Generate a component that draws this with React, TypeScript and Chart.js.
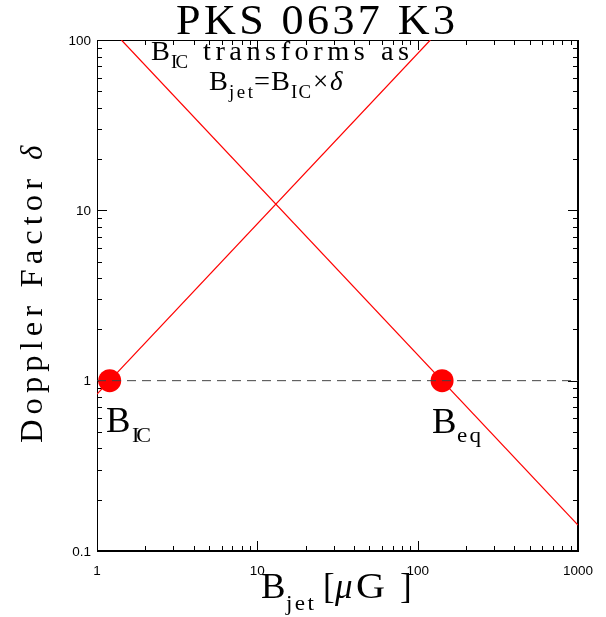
import React, { useEffect, useRef } from "react";
import { Chart, registerables } from "chart.js";

Chart.register(...registerables);

// ---- data ----
const xMin = 1;
const xMax = 1000;
const yMin = 0.1;
const yMax = 100;
const xMajorTicks = [1, 10, 100, 1000];
const xTickLabels = ["1", "10", "100", "1000"];
const yMajorTicks = [0.1, 1, 10, 100];
const yTickLabels = ["0.1", "1", "10", "100"];

// B_IC transformation line (delta = B / B_IC)
const bicLineX = [1, 120];
const bicLineY = [0.833, 100];
// equipartition line (delta = B_eq / B)
const beqLineX = [1.42, 1000];
const beqLineY = [100, 0.142];
// delta = 1 reference
const unityX = [1, 1000];
const unityY = [1, 1];
// marked field values
const markX = [1.2, 142];
const markY = [1, 1];

const SERIF = "'Liberation Serif', 'DejaVu Serif', serif";
const SANS = "'Liberation Sans', Arial, sans-serif";
const STRETCH = 1.05;

// draws text glyph by glyph; if x1 is given, letters are spread so the run ends there
function txt(
  ctx: CanvasRenderingContext2D,
  text: string,
  x0: number,
  y: number,
  size: number,
  x1?: number,
  italic = false,
  sx = STRETCH
) {
  ctx.font = `${italic ? "italic " : ""}${size}px ${SERIF}`;
  const chars = Array.from(text);
  const widths = chars.map((c) => ctx.measureText(c).width * sx);
  const total = widths.reduce((a, b) => a + b, 0);
  const gap = x1 !== undefined && chars.length > 1 ? (x1 - x0 - total) / (chars.length - 1) : 0;
  let x = x0;
  chars.forEach((c, i) => {
    ctx.save();
    ctx.translate(x, y);
    ctx.scale(sx, 1);
    ctx.fillText(c, 0, 0);
    ctx.restore();
    x += widths[i] + gap;
  });
}

const decorPlugin = {
  id: "decor",
  beforeDatasetsDraw(chart: any) {
    const { ctx, chartArea, scales } = chart;
    const { left, right, top, bottom } = chartArea;
    const xs = scales.x;
    const ys = scales.y;
    ctx.save();
    ctx.strokeStyle = "#000";
    ctx.lineWidth = 1;
    ctx.beginPath();
    ctx.moveTo(left + 0.5, bottom);
    ctx.lineTo(left + 0.5, top + 0.5);
    ctx.lineTo(right, top + 0.5);
    ctx.stroke();
    ctx.lineWidth = 2;
    ctx.beginPath();
    ctx.moveTo(left, bottom);
    ctx.lineTo(right, bottom);
    ctx.lineTo(right, top);
    ctx.stroke();

    ctx.lineWidth = 1;
    for (let d = 1; d < xMax; d *= 10) {
      for (let m = 1; m <= 10; m++) {
        const v = d * m;
        if (v > xMax) continue;
        const px = Math.round(xs.getPixelForValue(v)) + 0.5;
        const len = m === 1 || m === 10 ? 10 : 5;
        ctx.beginPath();
        ctx.moveTo(px, bottom);
        ctx.lineTo(px, bottom - len);
        ctx.moveTo(px, top);
        ctx.lineTo(px, top + len);
        ctx.stroke();
      }
    }
    for (let d = yMin; d < yMax * 0.99; d *= 10) {
      for (let m = 1; m <= 10; m++) {
        const v = d * m;
        if (v > yMax * 1.001) continue;
        const py = Math.round(ys.getPixelForValue(v)) + 0.5;
        const len = m === 1 || m === 10 ? 10 : 5;
        ctx.beginPath();
        ctx.moveTo(left, py);
        ctx.lineTo(left + len, py);
        ctx.moveTo(right, py);
        ctx.lineTo(right - len, py);
        ctx.stroke();
      }
    }
    ctx.restore();
  },
  afterDraw(chart: any) {
    const { ctx, chartArea, scales } = chart;
    const xs = scales.x;
    const ys = scales.y;
    ctx.save();
    ctx.fillStyle = "#000";
    ctx.font = `13.5px ${SANS}`;
    ctx.textAlign = "center";
    ctx.textBaseline = "alphabetic";
    xMajorTicks.forEach((v, i) => {
      ctx.fillText(xTickLabels[i], xs.getPixelForValue(v), 575);
    });
    ctx.textAlign = "right";
    ctx.textBaseline = "middle";
    yMajorTicks.forEach((v, i) => {
      ctx.fillText(yTickLabels[i], chartArea.left - 6, ys.getPixelForValue(v) + 1);
    });

    ctx.textAlign = "left";
    ctx.textBaseline = "alphabetic";
    // title
    txt(ctx, "PKS 0637 K3", 176, 34, 42, 455);
    // annotation line 1
    txt(ctx, "B", 151, 60, 27);
    txt(ctx, "IC", 171, 68, 18, 188);
    txt(ctx, "transforms as", 203, 60, 27, 409);
    // annotation line 2
    txt(ctx, "B", 209, 90, 27);
    txt(ctx, "jet", 229, 98, 18, 253);
    txt(ctx, "=", 254, 90, 27);
    txt(ctx, "B", 271, 90, 27);
    txt(ctx, "IC", 291, 98, 18, 311);
    txt(ctx, "×", 313, 90, 27, undefined, false, 1);
    txt(ctx, "δ", 330, 90, 27, undefined, true, 1);
    // point labels
    txt(ctx, "B", 106, 432, 35);
    txt(ctx, "IC", 132, 442, 21, 151);
    txt(ctx, "B", 432, 433, 35);
    txt(ctx, "eq", 457, 442, 22, 481);
    // x-axis title
    txt(ctx, "B", 261, 598, 35);
    txt(ctx, "jet", 286, 610, 22, 314);
    txt(ctx, "[", 323, 598, 35, undefined, false, 1);
    txt(ctx, "μ", 335, 598, 35, undefined, true, 1);
    txt(ctx, "G", 356, 598, 35, undefined, false, 1.15);
    txt(ctx, "]", 400, 598, 35, undefined, false, 1);
    // y-axis title
    ctx.save();
    ctx.translate(42, 443);
    ctx.rotate(-Math.PI / 2);
    txt(ctx, "Doppler Factor", 0, 0, 31, 264);
    txt(ctx, "δ", 283, 0, 31, undefined, true, 1);
    ctx.restore();
    ctx.restore();
  },
};

export default function App() {
  const ref = useRef<HTMLCanvasElement | null>(null);
  useEffect(() => {
    document.body.style.margin = "0";
    const canvas = ref.current;
    if (!canvas) return;
    const toPts = (xs: number[], ys: number[]) => xs.map((x, i) => ({ x, y: ys[i] }));
    const chart = new Chart(canvas, {
      type: "scatter",
      data: {
        datasets: [
          {
            data: toPts(unityX, unityY),
            showLine: true,
            borderColor: "#444",
            borderWidth: 1,
            borderDash: [9, 6],
            pointRadius: 0,
            order: 1,
          },
          {
            data: toPts(bicLineX, bicLineY),
            showLine: true,
            borderColor: "#ff0000",
            borderWidth: 1.2,
            pointRadius: 0,
            order: 2,
          },
          {
            data: toPts(beqLineX, beqLineY),
            showLine: true,
            borderColor: "#ff0000",
            borderWidth: 1.2,
            pointRadius: 0,
            order: 2,
          },
          {
            data: toPts(markX, markY),
            showLine: false,
            backgroundColor: "#ff0000",
            borderColor: "#ff0000",
            borderWidth: 0,
            pointRadius: 11.5,
            order: 3,
          },
        ],
      },
      options: {
        animation: false,
        responsive: false,
        maintainAspectRatio: false,
        devicePixelRatio: 1,
        layout: { padding: { left: 0, right: 28, top: 40, bottom: 0 } },
        plugins: {
          legend: { display: false },
          tooltip: { enabled: false },
          title: { display: false },
        },
        scales: {
          x: {
            type: "logarithmic",
            min: xMin,
            max: xMax,
            grid: { display: false },
            border: { display: false },
            ticks: { display: false },
            afterFit: (s: any) => {
              s.height = 66;
            },
          },
          y: {
            type: "logarithmic",
            min: yMin,
            max: yMax,
            grid: { display: false },
            border: { display: false },
            ticks: { display: false },
            afterFit: (s: any) => {
              s.width = 97;
            },
          },
        },
      },
      plugins: [decorPlugin],
    });
    return () => chart.destroy();
  }, []);
  return <canvas ref={ref} width={606} height={617} style={{ display: "block" }} />;
}
